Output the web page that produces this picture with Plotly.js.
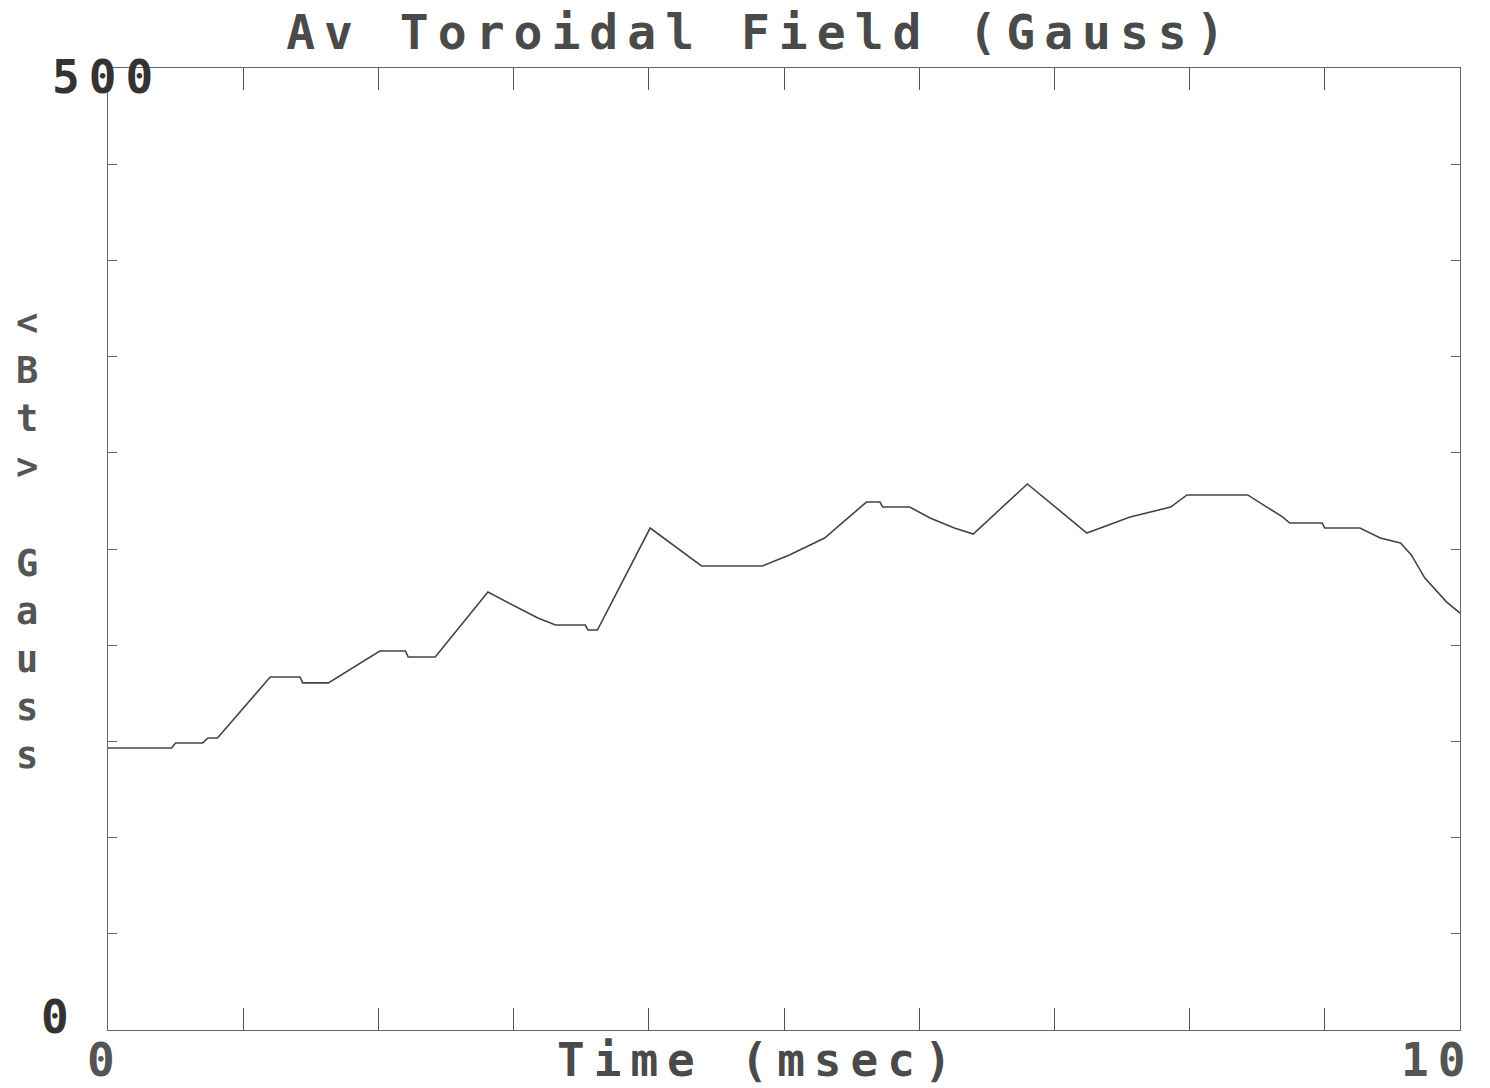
<!DOCTYPE html>
<html>
<head>
<meta charset="utf-8">
<script src="https://cdn.plot.ly/plotly-3.0.1.min.js"></script>
<style>
  html, body { margin: 0; padding: 0; background: #fff; }
  #chart { width: 1490px; height: 1088px; }
  .gtitle, .annotation-text { letter-spacing: 9px; }
</style>
</head>
<body>
<div id="chart"></div>
<script>
// Average toroidal field <Bt> versus time
const timeMs = [0, 0.47, 0.50, 0.70, 0.74, 0.81, 1.20, 1.42, 1.44, 1.63, 2.01, 2.20, 2.22, 2.42,
  2.81, 3.18, 3.31, 3.53, 3.55, 3.62, 4.01, 4.39, 4.84, 5.04, 5.30, 5.61, 5.71, 5.73, 5.93,
  6.08, 6.26, 6.40, 6.80, 7.24, 7.56, 7.86, 7.98, 8.43, 8.56, 8.69, 8.74, 8.98, 9.00, 9.26,
  9.41, 9.56, 9.64, 9.74, 9.90, 10.0];
const btGauss = [146.6, 146.6, 149.2, 149.2, 151.8, 151.8, 183.5, 183.5, 180.4, 180.4, 197.0, 197.0, 193.9, 193.9,
  227.6, 214.1, 210.5, 210.5, 207.9, 207.9, 260.9, 241.2, 241.2, 246.9, 255.7, 274.4, 274.4, 271.8, 271.8,
  266.1, 260.9, 257.8, 283.8, 258.3, 266.6, 271.8, 278.1, 278.1, 272.3, 266.6, 263.5, 263.5, 260.9, 260.9,
  255.7, 253.1, 246.9, 234.9, 222.5, 216.7];

// Tick positions and the few labelled ends
const xTickVals = [0, 1, 2, 3, 4, 5, 6, 7, 8, 9, 10];
const yTickVals = [0, 50, 100, 150, 200, 250, 300, 350, 400, 450, 500];
const xTickLabels = ['0', '10'];
const xTickLabelVals = [0, 10];
const yTickLabels = ['0', '500'];
const yTickLabelVals = [0, 500];

const titleText = 'Av Toroidal Field (Gauss)';
const xTitleText = 'Time (msec)';
const yTitleText = '&lt;<br>B<br>t<br>&gt;<br> <br>G<br>a<br>u<br>s<br>s';

const FONT = 'DejaVu Sans Mono, monospace';

const annotations = [];
// x-axis end labels, below the axis
xTickLabelVals.forEach((v, i) => {
  annotations.push({
    x: v, y: 0, xref: 'x', yref: 'y', text: xTickLabels[i], showarrow: false,
    xanchor: 'center', yanchor: 'middle', xshift: i === 0 ? -3 : -23, yshift: -30,
    font: { family: FONT, size: 46, color: '#555', weight: 'bold' }
  });
});
// y-axis end labels, left of the axis
yTickLabelVals.forEach((v, i) => {
  annotations.push({
    x: 0, y: v, xref: 'x', yref: 'y', text: yTickLabels[i], showarrow: false,
    xanchor: 'right', yanchor: 'middle', xshift: i === 0 ? -28 : 56, yshift: i === 0 ? 13 : -9,
    font: { family: FONT, size: 46, color: '#333', weight: 'bold' }
  });
});
// x-axis title
annotations.push({
  x: 0.4815, y: 0, xref: 'paper', yref: 'paper', text: xTitleText, showarrow: false,
  xanchor: 'center', yanchor: 'middle', yshift: -30,
  font: { family: FONT, size: 46, color: '#4a4a4a', weight: 'bold' }
});
// y-axis title, letters stacked
annotations.push({
  x: 0, y: 0.5, xref: 'paper', yref: 'paper', text: yTitleText, showarrow: false,
  xanchor: 'center', yanchor: 'middle', xshift: -77, yshift: 10,
  font: { family: FONT, size: 37, color: '#555', weight: 'bold' }
});

const trace = {
  x: timeMs, y: btGauss, type: 'scatter', mode: 'lines',
  line: { color: '#444', width: 1.6 },
  hoverinfo: 'x+y'
};

const layout = {
  width: 1490, height: 1088,
  margin: { l: 108, r: 30, t: 68, b: 58 },
  paper_bgcolor: '#fff', plot_bgcolor: '#fff',
  showlegend: false,
  title: {
    text: titleText, xref: 'container', yref: 'container',
    x: 0.510, y: 0.970, xanchor: 'center', yanchor: 'middle',
    font: { family: FONT, size: 48, color: '#4a4a4a', weight: 'bold' }
  },
  xaxis: {
    range: [0, 10], tickvals: xTickVals, showticklabels: false,
    ticks: 'inside', ticklen: 22, tickwidth: 1, tickcolor: '#555',
    showline: true, linecolor: '#666', linewidth: 1, mirror: 'allticks',
    showgrid: false, zeroline: false, fixedrange: true
  },
  yaxis: {
    range: [0, 500], tickvals: yTickVals, showticklabels: false,
    ticks: 'inside', ticklen: 9, tickwidth: 1, tickcolor: '#666',
    showline: true, linecolor: '#666', linewidth: 1, mirror: 'allticks',
    showgrid: false, zeroline: false, fixedrange: true
  },
  annotations: annotations
};

Plotly.newPlot('chart', [trace], layout, { displayModeBar: false, staticPlot: true });
</script>
</body>
</html>
